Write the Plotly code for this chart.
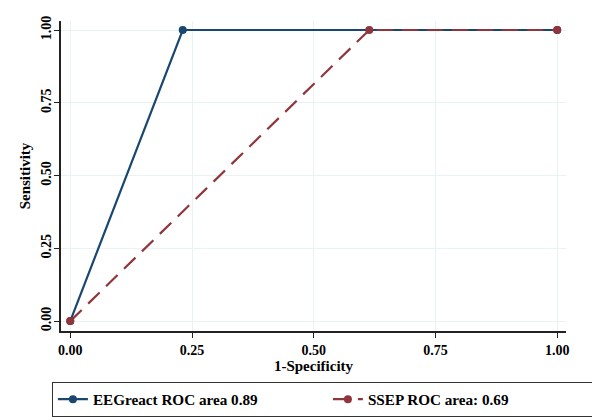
import plotly.graph_objects as go

eeg_x = [0.0, 0.231, 1.0]
eeg_y = [0.0, 1.0, 1.0]
ssep_x = [0.0, 0.614, 1.0]
ssep_y = [0.0, 1.0, 1.0]
eeg_name = "EEGreact ROC area 0.89"
ssep_name = "SSEP ROC area: 0.69"
tick_vals = [0, 0.25, 0.5, 0.75, 1.0]
tick_text = ["0.00", "0.25", "0.50", "0.75", "1.00"]

NAVY = "#1a476f"
MAROON = "#90353b"
GRID = "#eaf2f3"
FONT = "Liberation Serif"

fig = go.Figure()
fig.add_trace(go.Scatter(x=eeg_x, y=eeg_y, mode="lines+markers", name=eeg_name,
                         line=dict(color=NAVY, width=2.2),
                         marker=dict(color=NAVY, size=8)))
fig.add_trace(go.Scatter(x=ssep_x, y=ssep_y, mode="lines+markers", name=ssep_name,
                         line=dict(color=MAROON, width=2.2, dash="16px,9px"),
                         marker=dict(color=MAROON, size=8)))

fig.update_layout(
    width=600, height=420,
    margin=dict(l=53, r=42, t=13, b=97, autoexpand=False),
    plot_bgcolor="white", paper_bgcolor="white",
    font=dict(family=FONT, size=14, color="black", weight="bold"),
    showlegend=True,
    legend=dict(orientation="h", x=-0.018, xanchor="left", y=-0.164, yanchor="top",
                bordercolor="#333333", borderwidth=1, entrywidth=230,
                font=dict(family=FONT, size=15.2, color="black", weight="bold")),
)
fig.update_xaxes(range=[-0.019, 1.018], tickvals=tick_vals, ticktext=tick_text,
                 showgrid=True, gridcolor=GRID, gridwidth=1, zeroline=False,
                 showline=True, linecolor="#222222", linewidth=2,
                 ticks="outside", ticklen=5, tickcolor="#222222", automargin=False,
                 ticklabelstandoff=0,
                 title=dict(text="1-Specificity", standoff=4,
                            font=dict(family=FONT, size=15, weight="bold")),
                 tickfont=dict(family=FONT, size=14, weight="bold"))
fig.update_yaxes(range=[-0.034, 1.031], tickvals=tick_vals, ticktext=tick_text,
                 showgrid=True, gridcolor=GRID, gridwidth=1, zeroline=False,
                 showline=True, linecolor="#222222", linewidth=2,
                 ticks="outside", ticklen=5, tickcolor="#222222", tickangle=-90,
                 automargin=False, ticklabelstandoff=-3,
                 title=dict(text="Sensitivity", standoff=5,
                            font=dict(family=FONT, size=15, weight="bold")),
                 tickfont=dict(family=FONT, size=14, weight="bold"))

fig.write_html("out.html")
